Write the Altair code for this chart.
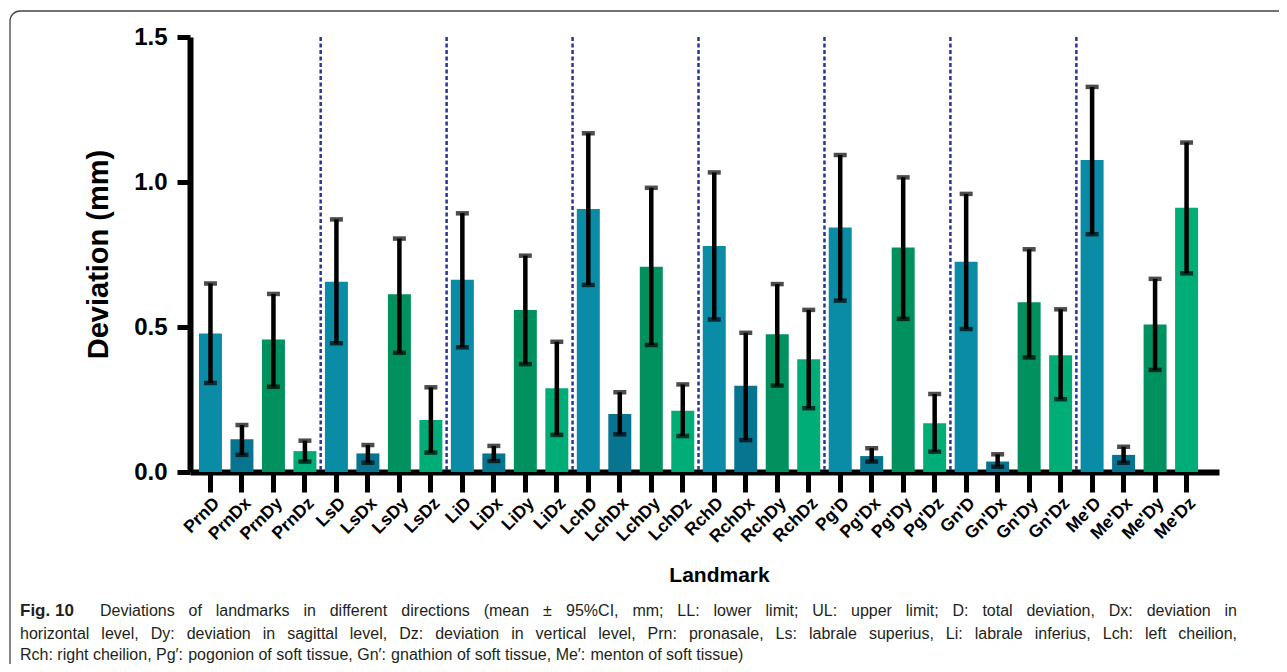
import altair as alt
import pandas as pd

landmarks = ["Prn", "Ls", "Li", "Lch", "Rch", "Pg'", "Gn'", "Me'"]
directions = ["D", "Dx", "Dy", "Dz"]
colors = ["#0b8ca6", "#087590", "#00915f", "#00ad77"]

means = [0.478, 0.113, 0.457, 0.072, 0.656, 0.064, 0.613, 0.179,
         0.663, 0.064, 0.559, 0.289, 0.907, 0.200, 0.708, 0.211,
         0.779, 0.297, 0.475, 0.389, 0.843, 0.055, 0.774, 0.168,
         0.725, 0.036, 0.585, 0.403, 1.076, 0.059, 0.509, 0.911]
lower = [0.307, 0.059, 0.294, 0.036, 0.444, 0.032, 0.411, 0.067,
         0.430, 0.038, 0.372, 0.128, 0.645, 0.130, 0.438, 0.124,
         0.526, 0.110, 0.298, 0.220, 0.591, 0.036, 0.528, 0.070,
         0.493, 0.018, 0.395, 0.251, 0.820, 0.032, 0.352, 0.685]
upper = [0.650, 0.162, 0.614, 0.108, 0.871, 0.093, 0.805, 0.292,
         0.892, 0.090, 0.746, 0.449, 1.168, 0.275, 0.980, 0.302,
         1.033, 0.480, 0.648, 0.559, 1.093, 0.082, 1.016, 0.269,
         0.959, 0.061, 0.768, 0.561, 1.328, 0.087, 0.666, 1.136]

y_ticks = [0.0, 0.5, 1.0, 1.5]

caption_bold = "Fig. 10"
caption_lines = [
    "Deviations of landmarks in different directions (mean \u00b1 95%CI, mm; LL: lower limit; UL: upper limit; D: total deviation, Dx: deviation in",
    "horizontal level, Dy: deviation in sagittal level, Dz: deviation in vertical level, Prn: pronasale, Ls: labrale superius, Li: labrale inferius, Lch: left cheilion,",
    "Rch: right cheilion, Pg\u2032: pogonion of soft tissue, Gn\u2032: gnathion of soft tissue, Me\u2032: menton of soft tissue)",
]

labels = [lm + d for lm in landmarks for d in directions]
dirs = [d for lm in landmarks for d in directions]
df = pd.DataFrame({"label": labels, "dir": dirs, "mean": means, "lo": lower, "hi": upper})
sep_df = pd.DataFrame({"label": [lm + "D" for lm in landmarks[1:]]})

W, H = 1029, 435
PAD_L, PAD_T = 182, 29
FONT = "Liberation Sans, Arial, sans-serif"

# ---- caption layout (justified like the printed figure) ----
ARIAL = {" ": 278, "%": 889, "'": 191, "(": 333, ")": 333, ",": 278, "-": 333, ".": 278,
         ":": 278, ";": 278, "\u00b1": 584, "\u2032": 230,
         "A": 667, "B": 667, "C": 722, "D": 722, "E": 667, "F": 611, "G": 778, "H": 722,
         "I": 278, "J": 500, "K": 667, "L": 556, "M": 833, "N": 722, "O": 778, "P": 667,
         "R": 722, "S": 667, "T": 611, "U": 722,
         "a": 556, "b": 556, "c": 500, "d": 556, "e": 556, "f": 278, "g": 556, "h": 556,
         "i": 222, "j": 222, "k": 500, "l": 222, "m": 833, "n": 556, "o": 556, "p": 556,
         "q": 556, "r": 333, "s": 500, "t": 278, "u": 556, "v": 500, "w": 722, "x": 500,
         "y": 500, "z": 500}
CAP_SIZE = 16


def tw(s):
    return sum(ARIAL.get(c, 556) for c in s) * CAP_SIZE / 1000.0


line_specs = [(100, 1237, 611, True), (20, 1237, 634, True), (20, None, 655, False)]
words_rows = []
for text, (x0, x1, yy, justify) in zip(caption_lines, line_specs):
    words = text.split(" ")
    if justify:
        natural = sum(tw(w) for w in words)
        gap = (x1 - x0 - natural) / (len(words) - 1)
    else:
        gap = tw(" ")
    cx = x0
    for w in words:
        words_rows.append({"t": w, "px": cx - 8 - PAD_L, "py": yy - 8 - PAD_T})
        cx += tw(w) + gap
cap_df = pd.DataFrame(words_rows)

xscale = alt.Scale(paddingInner=0.27, paddingOuter=0.475, align=0.3)
yscale = alt.Scale(domain=[0, 1.5], nice=False, zero=True)

xaxis = alt.Axis(
    labelAngle=315, labelAlign="right", labelBaseline="top",
    labelFont=FONT, labelFontSize=17.5, labelFontWeight="bold", labelColor="black",
    labelPadding=2, tickSize=20, tickWidth=5, tickColor="black",
    domainColor="black", domainWidth=6, grid=False,
    title="Landmark", titleFont=FONT, titleFontSize=21, titleFontWeight="bold",
    titleColor="black", titleX=529, titleY=92, titleAlign="center", titleBaseline="top",
)
yaxis = alt.Axis(
    values=y_ticks, format=".1f",
    labelFont=FONT, labelFontSize=24, labelFontWeight="bold", labelColor="black",
    labelPadding=10, tickSize=13, tickWidth=5, tickColor="black",
    domainColor="black", domainWidth=6, grid=False,
    title="Deviation (mm)", titleFont=FONT, titleFontSize=29, titleFontWeight="bold",
    titleColor="black", titleX=-92, titleY=217, titleAngle=270,
    titleAlign="center", titleBaseline="middle",
)

X = alt.X("label:N", sort=labels, scale=xscale, axis=xaxis, title="Landmark")
base = alt.Chart(df)

bars = base.mark_bar().encode(
    x=X,
    y=alt.Y("mean:Q", scale=yscale, axis=yaxis, title="Deviation (mm)"),
    color=alt.Color("dir:N", scale=alt.Scale(domain=directions, range=colors), legend=None),
)
err = base.mark_rule(color="black", strokeWidth=4.5).encode(
    x=X,
    y=alt.Y("lo:Q", scale=yscale, axis=yaxis, title="Deviation (mm)"),
    y2="hi:Q",
)
cap_hi = base.mark_tick(color="black", thickness=4.5, size=13, orient="horizontal").encode(
    x=X, y=alt.Y("hi:Q", scale=yscale, axis=yaxis, title="Deviation (mm)"),
)
cap_lo = base.mark_tick(color="black", thickness=4.5, size=13, orient="horizontal").encode(
    x=X, y=alt.Y("lo:Q", scale=yscale, axis=yaxis, title="Deviation (mm)"),
)
seps = alt.Chart(sep_df).mark_rule(
    color="#2b3595", strokeWidth=2.5, strokeDash=[4, 2.5], xOffset=-4.25
).encode(
    x=alt.X("label:N", sort=labels, scale=xscale, axis=xaxis, title="Landmark", bandPosition=0),
    y=alt.datum(1.5),
    y2=alt.datum(0),
)

frame = alt.Chart(pd.DataFrame({"a": [0]})).mark_rect(
    fill=None, stroke="#444444", strokeWidth=1.3, cornerRadius=10
).encode(
    x=alt.value(-180), x2=alt.value(W + 120), y=alt.value(-26), y2=alt.value(H + 260)
)

cap_color = "#231f20"
fig_txt = alt.Chart(pd.DataFrame({"t": [caption_bold]})).mark_text(
    align="left", baseline="middle", font=FONT, fontSize=CAP_SIZE + 1,
    fontWeight="bold", color=cap_color
).encode(text="t:N", x=alt.value(20 - 8 - PAD_L), y=alt.value(611 - 8 - PAD_T))

cap_words = alt.Chart(cap_df).mark_text(
    align="left", baseline="middle", font=FONT, fontSize=CAP_SIZE, color=cap_color
).encode(
    text="t:N",
    x=alt.X("px:Q", scale=None, axis=None),
    y=alt.Y("py:Q", scale=None, axis=None),
)

chart = alt.layer(frame, bars, seps, err, cap_hi, cap_lo, fig_txt, cap_words).properties(
    width=W, height=H,
    padding={"left": PAD_L, "top": PAD_T, "right": 60, "bottom": 192},
    autosize=alt.AutoSizeParams(type="none"),
).configure_view(stroke=None)

chart.save("out.html", embed_options={"renderer": "svg", "actions": False})
